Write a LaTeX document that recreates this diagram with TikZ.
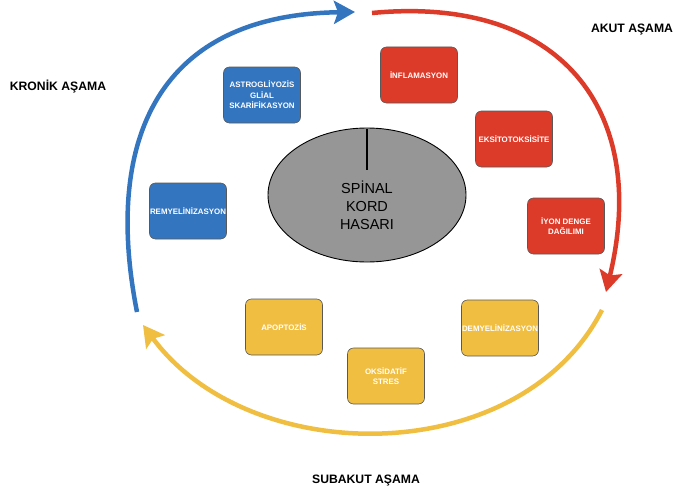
\documentclass[tikz,border=0pt]{standalone}
\usepackage{fontspec}
\setmainfont{Liberation Sans}
\usetikzlibrary{arrows.meta,shapes.geometric}
\definecolor{cblue}{RGB}{52,117,192}
\definecolor{cred}{RGB}{221,59,42}
\definecolor{cyel}{RGB}{240,190,64}
\definecolor{cgray}{RGB}{150,150,150}
\tikzset{
  stagebox/.style={rectangle, rounded corners=6pt, draw=black!65, line width=0.6pt,
    minimum width=77pt, minimum height=56pt, text=white, align=center,
    font=\fontsize{7.9}{10.5}\selectfont\bfseries, inner sep=0.5pt},
  phase/.style={line width=4.5pt, -{Stealth[length=21pt,width=23pt,inset=4pt]}},
  phaselabel/.style={font=\fontsize{12.2}{14}\selectfont\bfseries, text=black}
}
\begin{document}
\begin{tikzpicture}[x=1pt,y=-1pt]
\useasboundingbox (0,0) rectangle (682,495);
% center ellipse
\node (core) [ellipse, draw=black, line width=0.9pt, fill=cgray, minimum width=198pt, minimum height=134pt] at (367,195) {};
\coordinate (coretop) at (367,129);
\coordinate (coreline) at (367,170);
\draw[line width=2.5pt] (coretop) -- (coreline);
\node (coretext) [align=center, font=\fontsize{14.5}{18}\selectfont] at (367,205) {SPİNAL\\KORD\\HASARI};
% boxes
\node (astro) [stagebox, fill=cblue] at (262,95) {ASTROGLİYOZİS\\GLİAL\\SKARİFİKASYON};
\node (remy) [stagebox, fill=cblue] at (188,211) {REMYELİNİZASYON};
\node (infl) [stagebox, fill=cred] at (419,75) {İNFLAMASYON};
\node (eksi) [stagebox, fill=cred] at (514,139) {EKSİTOTOKSİSİTE};
\node (iyon) [stagebox, fill=cred] at (566,226) {İYON DENGE\\DAĞILIMI};
\node (apop) [stagebox, fill=cyel] at (284,327) {APOPTOZİS};
\node (oksi) [stagebox, fill=cyel] at (386,376) {OKSİDATİF\\STRES};
\node (demy) [stagebox, fill=cyel] at (500,328) {DEMYELİNİZASYON};
% phase arrows
\coordinate (rs) at (372,13);
\coordinate (re) at (606,292);
\coordinate (ys) at (602,310);
\coordinate (ye) at (143,325);
\coordinate (bs) at (137,312);
\coordinate (be) at (355,12);
\draw[phase, cred] (rs) .. controls (560,-5) and (650,110) .. (re);
\draw[phase, cyel] (ys) .. controls (520,470) and (250,470) .. (ye);
\draw[phase, cblue] (bs) .. controls (105,150) and (150,15) .. (be);
% labels
\node (akut) [phaselabel] at (632,30) {AKUT AŞAMA};
\node (subakut) [phaselabel] at (366,481) {SUBAKUT AŞAMA};
\node (kronik) [phaselabel] at (58,87) {KRONİK AŞAMA};
\end{tikzpicture}
\end{document}
